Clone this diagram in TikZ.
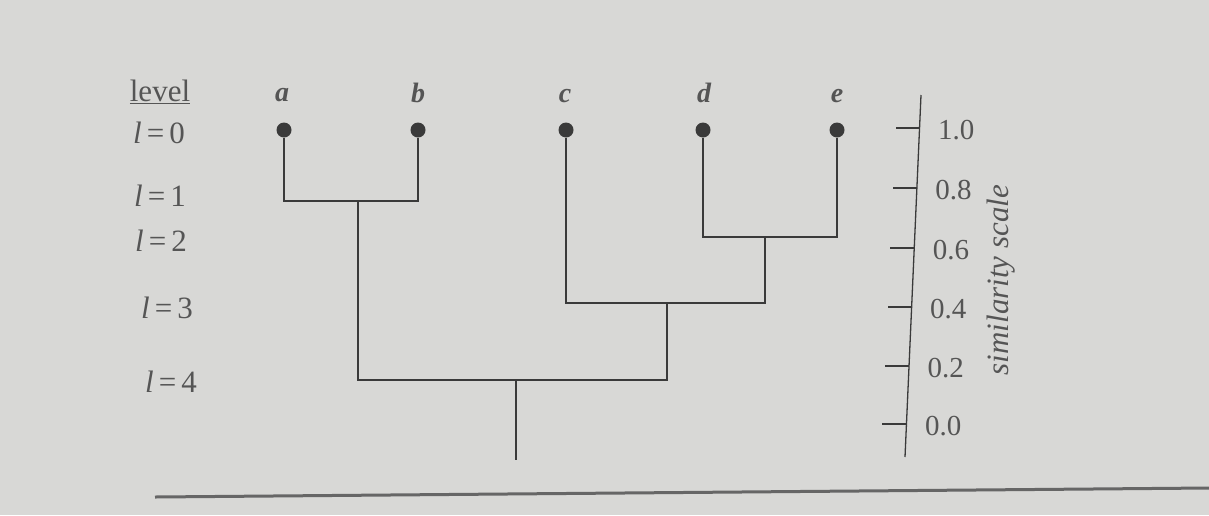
\documentclass[tikz,border=0pt]{standalone}
\usepackage{fontspec}
\setmainfont{Liberation Serif}
\usetikzlibrary{calc}
\definecolor{paper}{HTML}{D8D8D6}
\definecolor{ink}{HTML}{3A3A3A}
\definecolor{txt}{HTML}{555555}
\tikzset{
  leaf/.style={circle,fill=ink,inner sep=0pt,minimum size=15pt},
  tree/.style={draw=ink,line width=1.3pt},
  leaflabel/.style={font=\fontsize{28}{30}\selectfont\bfseries\itshape,text=txt},
  lvl/.style={font=\fontsize{31}{33}\selectfont,text=txt},
  scalelabel/.style={font=\fontsize{29}{31}\selectfont,text=txt,anchor=west},
  tickline/.style={draw=ink,line width=1.3pt},
}
\begin{document}
\begin{tikzpicture}[x=1pt,y=-1pt]
\fill[paper] (0,0) rectangle (1209,515);
\useasboundingbox (0,0) rectangle (1209,515);

% level labels
\node[lvl] (lvlhead) at (160,92) {\underline{level}};
\node[lvl] (l0) at (159,133) {\textit{l}\,=\,0};
\node[lvl] (l1) at (160,196) {\textit{l}\,=\,1};
\node[lvl] (l2) at (161,241) {\textit{l}\,=\,2};
\node[lvl] (l3) at (167,308) {\textit{l}\,=\,3};
\node[lvl] (l4) at (171,382) {\textit{l}\,=\,4};

% leaves
\node[leaf] (a) at (284,130) {};
\node[leaf] (b) at (418,130) {};
\node[leaf] (c) at (566,130) {};
\node[leaf] (d) at (703,130) {};
\node[leaf] (e) at (837,130) {};
\node[leaflabel] (la) at (282,95) {a};
\node[leaflabel] (lb) at (418,93) {b};
\node[leaflabel] (lc) at (565,96) {c};
\node[leaflabel] (ld) at (704,93) {d};
\node[leaflabel] (le) at (837,96) {e};

% merges
\coordinate (ab) at (358,201);
\coordinate (de) at (765,237);
\coordinate (cde) at (667,303);
\coordinate (root) at (516,380);
\coordinate (stem) at (516,460);

\draw[tree] (a) |- (ab) -| (b);
\draw[tree] (d) |- (de) -| (e);
\draw[tree] (c) |- (cde) -| (de);
\draw[tree] (ab) |- (root) -| (cde);
\draw[tree] (root) -- (stem);

% similarity scale
\coordinate (axtop) at (921,95);
\coordinate (axbot) at (905,457);
\draw[tickline] (axtop) -- (axbot);
\foreach \v/\yy in {1.0/128,0.8/188,0.6/248,0.4/307,0.2/366,0.0/424}{
  \pgfmathsetmacro{\xx}{921-16*(\yy-95)/362}
  \coordinate (t\yy) at (\xx,\yy);
  \draw[tickline] (t\yy) -- ++(-24,0);
  \node[scalelabel] at ($(t\yy)+(15,2)$) {\v};
}
\node[font=\fontsize{31}{33}\selectfont\itshape,text=txt,rotate=90] (simlabel) at (1001,280) {similarity scale};

% bottom rule
\coordinate (rl) at (155,497);
\coordinate (rr) at (1209,488);
\draw[draw=black!60,line width=3pt] (rl) -- (rr);
\end{tikzpicture}
\end{document}
